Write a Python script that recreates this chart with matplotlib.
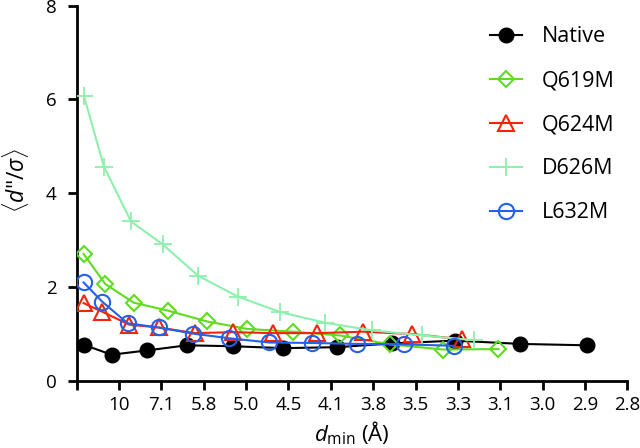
import matplotlib
matplotlib.use('Agg')
import matplotlib.pyplot as plt

plt.rcParams['font.family'] = ['Open Sans', 'DejaVu Sans']
plt.rcParams['mathtext.fontset'] = 'custom'
plt.rcParams['mathtext.rm'] = 'Open Sans'
plt.rcParams['mathtext.it'] = 'Open Sans:italic'

# x values are 1/d_min^2 (A^-2), y is <d''/sigma>
native_x = [0.0017, 0.0082, 0.0165, 0.0260, 0.0369, 0.0488, 0.0615, 0.0744, 0.0894, 0.1047, 0.1205]
native_y = [0.77, 0.56, 0.65, 0.76, 0.74, 0.70, 0.72, 0.80, 0.86, 0.79, 0.76]

q619m_x = [0.0016, 0.0067, 0.0134, 0.0215, 0.0307, 0.0402, 0.0510, 0.0622, 0.0740, 0.0866, 0.0996]
q619m_y = [2.71, 2.07, 1.67, 1.50, 1.27, 1.11, 1.05, 0.97, 0.78, 0.67, 0.68]

q624m_x = [0.0016, 0.0059, 0.0124, 0.0193, 0.0279, 0.0370, 0.0464, 0.0567, 0.0677, 0.0791, 0.0910]
q624m_y = [1.66, 1.48, 1.20, 1.14, 1.02, 1.04, 1.02, 1.02, 1.05, 1.00, 0.89]

d626m_x = [0.0017, 0.0064, 0.0128, 0.0203, 0.0287, 0.0380, 0.0480, 0.0587, 0.0697, 0.0815, 0.0937]
d626m_y = [6.07, 4.57, 3.40, 2.91, 2.24, 1.80, 1.47, 1.24, 1.08, 0.97, 0.87]

l632m_x = [0.0016, 0.0060, 0.0120, 0.0193, 0.0274, 0.0360, 0.0455, 0.0555, 0.0661, 0.0773, 0.0890]
l632m_y = [2.10, 1.69, 1.23, 1.14, 1.01, 0.91, 0.82, 0.81, 0.79, 0.78, 0.75]

xtick_pos = [0.0, 0.01, 0.02, 0.03, 0.04, 0.05, 0.06, 0.07, 0.08, 0.09, 0.10, 0.11, 0.12, 0.13]
xtick_labels = ['', '10', '7.1', '5.8', '5.0', '4.5', '4.1', '3.8', '3.5', '3.3', '3.1', '3.0', '2.9', '2.8']

fig = plt.figure(figsize=(6.4, 4.48), dpi=100)
ax = fig.add_axes([0.12, 0.1496, 0.86, 0.838])

ax.plot(native_x, native_y, '-o', color='black', lw=1.5, ms=10.5, label='Native', zorder=3)
ax.plot(q619m_x, q619m_y, '-D', color='#5fdc1e', lw=1.5, ms=8, mfc='none', mew=1.5,
        label='Q619M', zorder=4)
ax.plot(q624m_x, q624m_y, '-^', color='#f0250a', lw=1.5, ms=11, mfc='none', mew=1.5,
        label='Q624M', zorder=5)
ax.plot(d626m_x, d626m_y, '-+', color='#8ef0ac', lw=1.5, ms=13, mew=1.3,
        label='D626M', zorder=6)
ax.plot(l632m_x, l632m_y, '-o', color='#2461e8', lw=1.5, ms=11, mfc='none', mew=1.5,
        label='L632M', zorder=7)

ax.set_xlim(0, 0.13)
ax.set_ylim(0, 8)
ax.set_xticks(xtick_pos)
ax.set_xticklabels(xtick_labels)
ax.set_yticks([0, 2, 4, 6, 8])

for side in ['top', 'right']:
    ax.spines[side].set_visible(False)
for side in ['left', 'bottom']:
    ax.spines[side].set_linewidth(2)
ax.tick_params(direction='out', length=6.5, width=2, labelsize=13.5)
ax.tick_params(axis='x', pad=4)
ax.tick_params(axis='y', pad=8)

ax.set_xlabel(r'$d_{\mathrm{min}}$ (Å)', fontsize=16, labelpad=4.5)
ax.set_ylabel(r'$\langle d$"/$\sigma\rangle$', fontsize=16.5)
ax.yaxis.set_label_coords(-0.083, 0.535)

ax.legend(loc='upper left', bbox_to_anchor=(0.751, 0.945), frameon=False, fontsize=15.5,
          handlelength=1.5, handletextpad=0.9, labelspacing=1.07, borderpad=0, borderaxespad=0)

fig.savefig('out.png', dpi=100)
